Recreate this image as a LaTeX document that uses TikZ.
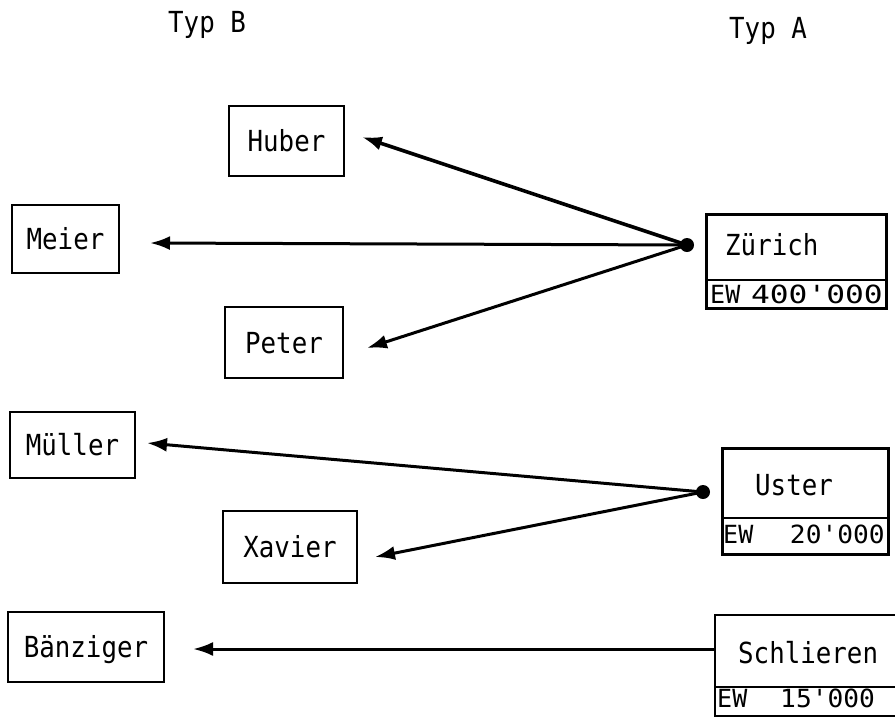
\documentclass[tikz,border=0pt]{standalone}
\usepackage{fontspec}
\usepackage{graphicx}
\usetikzlibrary{arrows.meta,calc}
\newfontfamily\namefont[FakeStretch=0.89]{DejaVu Sans Mono}
\newfontfamily\ewfont{DejaVu Sans Mono}
\begin{document}
\begin{tikzpicture}[x=1pt,y=-1pt,
  namebox/.style={draw, line width=2.8pt, inner sep=0pt,
    font=\namefont\fontsize{29}{29}\selectfont, text height=21pt, text depth=0pt},
  lbl/.style={inner sep=0pt, anchor=base west, font=\namefont\fontsize{29}{29}\selectfont},
  ewlbl/.style={inner sep=0pt, anchor=base west, font=\ewfont\fontsize{25}{25}\selectfont},
  frame/.style={draw, line width=2.8pt, inner sep=0pt, anchor=north west},
  divider/.style={line width=2.4pt},
  conn/.style={line width=3pt, -{Latex[length=20pt,width=14pt]}},
  junction/.style={circle, fill, inner sep=0pt, minimum size=14pt}]
\useasboundingbox (0,0) rectangle (895,721);

% headers
\node[lbl] (typb) at (168,32) {Typ B};
\node[lbl] (typa) at (729,38) {Typ A};

% Typ B boxes
\node[namebox, minimum width=115pt, minimum height=70pt] (huber) at (286.5,141) {Huber};
\node[namebox, minimum width=107pt, minimum height=68pt] (meier) at (65.5,239) {Meier};
\node[namebox, minimum width=118pt, minimum height=71pt] (peter) at (284,342.5) {Peter};
\node[namebox, minimum width=125pt, minimum height=66pt] (mueller) at (72.5,445) {Müller};
\node[namebox, minimum width=134pt, minimum height=72pt] (xavier) at (290,547) {Xavier};
\node[namebox, minimum width=156pt, minimum height=70pt] (baenziger) at (86,647) {Bänziger};

% Typ A: Zuerich
\node[frame, minimum width=180pt, minimum height=94pt] (zur) at (705,213) {};
\draw[divider] ($(zur.north west)+(0,67)$) -- ($(zur.north east)+(0,67)$);
\node[lbl] (zurn) at (725,255) {Zürich};
\node[ewlbl] (zure) at (710,303) {EW};
\node[ewlbl, anchor=base east] (zurv) at (883,303) {\scalebox{1.25}[1]{400\char39 000}};

% Typ A: Uster
\node[frame, minimum width=166pt, minimum height=106pt] (ust) at (721,447) {};
\draw[divider] ($(ust.north west)+(0,71)$) -- ($(ust.north east)+(0,71)$);
\node[lbl] (ustn) at (755,495) {Uster};
\node[ewlbl] (uste) at (723,543) {EW};
\node[ewlbl, anchor=base east] (ustv) at (885,543) {\scalebox{1.05}[1]{20\char39 000}};

% Typ A: Schlieren (cut at the right edge)
\coordinate (schnw) at (715,615);
\coordinate (schsw) at (715,716);
\coordinate (schdiv) at (715,687);
\coordinate (sch) at (715,649);
\draw[line width=2.8pt] (895,615) -- (schnw) -- (schsw) -- (895,716);
\draw[divider] (schdiv) -- (895,687);
\node[lbl] (schn) at (738,663) {Schlieren};
\node[ewlbl] (sche) at (717,707) {EW};
\node[ewlbl] (schv) at (780,707) {\scalebox{1.05}[1]{15\char39 000}};

% junction dots
\node[junction] (zdot) at (687,245) {};
\node[junction] (udot) at (703,492) {};

% arrow tips (free ends)
\coordinate (huT) at (362,137);
\coordinate (meT) at (150,243);
\coordinate (peT) at (367,348);
\coordinate (muT) at (147,443);
\coordinate (xaT) at (375,557);
\coordinate (baT) at (193,649);

\draw[conn, line width=3.6pt] (zdot.center) -- (huT);
\draw[conn] (zdot.center) -- (meT);
\draw[conn] (zdot.center) -- (peT);
\draw[conn] (udot.center) -- (muT);
\draw[conn] (udot.center) -- (xaT);
\draw[conn] (sch) -- (baT);
\end{tikzpicture}
\end{document}
